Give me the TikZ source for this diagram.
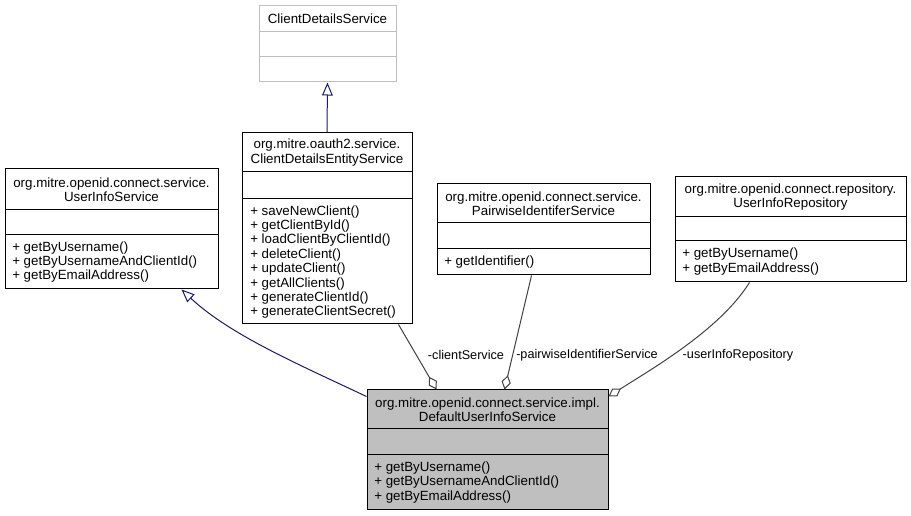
\documentclass[tikz,border=0pt]{standalone}
\usepackage{fontspec}
\setmainfont{Liberation Sans}
\usepackage{tikz}
\usetikzlibrary{arrows,arrows.meta,shapes,fit,calc}
\definecolor{edgeblue}{HTML}{191970}
\definecolor{edgegray}{HTML}{404040}
\definecolor{boxgray}{HTML}{BFBFBF}
\tikzstyle{classbox}=[rectangle,draw=black,line width=0.75pt,inner sep=0pt]
\tikzstyle{classline}=[draw=black,line width=0.75pt]
\tikzstyle{titletext}=[align=center,inner sep=0pt,font={\fontsize{10}{10.7}\selectfont}]
\tikzstyle{methodtext}=[align=left,anchor=west,inner sep=0pt,font={\fontsize{10}{10.8}\selectfont}]
\tikzstyle{inherit} = [draw,edgeblue,line width=0.75pt,-{Triangle[open,length=9.75pt,width=8pt]}]
\tikzstyle{aggregate} = [draw,edgegray,line width=0.75pt,{Diamond[open,length=11pt,width=7pt]}-]
\tikzstyle{edgelabel} = [inner sep=0pt,font={\fontsize{9.5}{10.7}\selectfont}]

\begin{document}
\begin{tikzpicture}[x=0.75pt,y=-0.75pt]
    \useasboundingbox (0,0) rectangle (911,516);

    % class boxes
    \node[classbox,draw=boxgray,fit={(259,6) (396,82)}] (clientDetailsService) {};
    \draw[classline,boxgray] (259,32) -- (396,32) (259,57) -- (396,57);
    \node[titletext] (clientDetailsServiceTitle) at (327.5,19) {ClientDetailsService};

    \node[classbox,fit={(242,133) (412,324)}] (clientDetailsEntityService) {};
    \draw[classline] (242,172) -- (412,172) (242,199) -- (412,199);
    \node[titletext] (clientDetailsEntityServiceTitle) at (327,152.5) {org.mitre.oauth2.service.\\ClientDetailsEntityService};
    \node[methodtext] (clientDetailsEntityServiceMethods) at (250,262) {+ saveNewClient()\\+ getClientById()\\+ loadClientByClientId()\\+ deleteClient()\\+ updateClient()\\+ getAllClients()\\+ generateClientId()\\+ generateClientSecret()};

    \node[classbox,fit={(5,169) (218,289)}] (userInfoService) {};
    \draw[classline] (5,210) -- (218,210) (5,235) -- (218,235);
    \node[titletext] (userInfoServiceTitle) at (111.5,189.5) {org.mitre.openid.connect.service.\\UserInfoService};
    \node[methodtext] (userInfoServiceMethods) at (12,262) {+ getByUsername()\\+ getByUsernameAndClientId()\\+ getByEmailAddress()};

    \node[classbox,fit={(437,184) (650,275)}] (pairwiseIdentiferService) {};
    \draw[classline] (437,223) -- (650,223) (437,249) -- (650,249);
    \node[titletext] (pairwiseIdentiferServiceTitle) at (543.5,203.5) {org.mitre.openid.connect.service.\\PairwiseIdentiferService};
    \node[methodtext] (pairwiseIdentiferServiceMethods) at (444,262) {+ getIdentifier()};

    \node[classbox,fit={(675,177) (906,282)}] (userInfoRepository) {};
    \draw[classline] (675,217) -- (906,217) (675,241) -- (906,241);
    \node[titletext] (userInfoRepositoryTitle) at (790.5,197) {org.mitre.openid.connect.repository.\\UserInfoRepository};
    \node[methodtext] (userInfoRepositoryMethods) at (682,261.5) {+ getByUsername()\\+ getByEmailAddress()};

    \node[classbox,fill=boxgray,fit={(367,390) (608,510)}] (defaultUserInfoService) {};
    \draw[classline] (367,429) -- (608,429) (367,455) -- (608,455);
    \node[titletext] (defaultUserInfoServiceTitle) at (487.5,409.5) {org.mitre.openid.connect.service.impl.\\DefaultUserInfoService};
    \node[methodtext] (defaultUserInfoServiceMethods) at (374,482.5) {+ getByUsername()\\+ getByUsernameAndClientId()\\+ getByEmailAddress()};

    % inheritance
    \draw[inherit] (clientDetailsEntityService.north) -- (clientDetailsService.south);
    \draw[inherit] ($(defaultUserInfoService.north west)+(0,7)$) .. controls (300,365) and (230,335) .. ($(userInfoService.south east)+(-37,0)$);

    % aggregation with labels
    \draw[aggregate] ($(defaultUserInfoService.north west)+(70,0)$) -- ($(clientDetailsEntityService.south east)+(-14,0)$);
    \draw[aggregate] ($(defaultUserInfoService.north west)+(138,0)$) -- ($(pairwiseIdentiferService.south west)+(95,0)$);
    \draw[aggregate] ($(defaultUserInfoService.north east)+(0,7)$) .. controls (650,370) and (720,330) .. ($(userInfoRepository.south west)+(75,0)$);
    \node[edgelabel] (clientServiceLabel) at (466,355) {-clientService};
    \node[edgelabel] (pairwiseLabel) at (587,355) {-pairwiseIdentifierService};
    \node[edgelabel] (userInfoRepositoryLabel) at (738,355) {-userInfoRepository};
\end{tikzpicture}
\end{document}
